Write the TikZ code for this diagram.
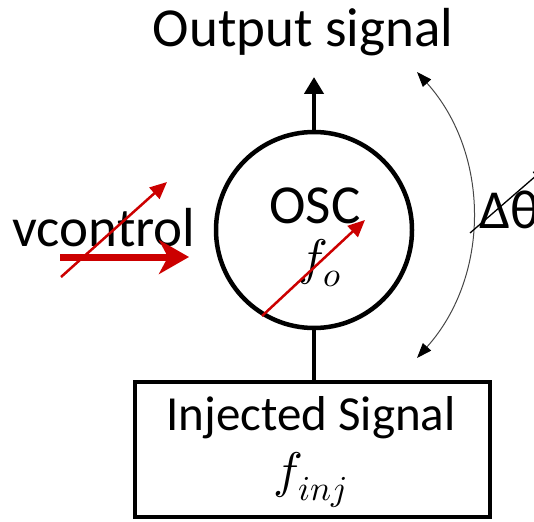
\documentclass[tikz,border=0pt]{standalone}
\usepackage{unicode-math}
\setmainfont{Carlito}
\usetikzlibrary{arrows.meta}
\definecolor{redA}{RGB}{204,0,0}
\definecolor{arcgrey}{RGB}{70,70,70}
\tikzset{
  lbl/.style={inner sep=0pt, font=\fontsize{55}{66}\selectfont},
  boxlbl/.style={inner sep=0pt, font=\fontsize{49}{59}\selectfont},
  mlbl/.style={inner sep=0pt, font=\fontsize{50}{60}\selectfont},
  thickline/.style={line width=4.5pt, black},
  redthin/.style={line width=2.5pt, redA, -{Triangle[length=17pt,width=15pt]}},
  redthick/.style={line width=7pt, redA, -{Stealth[length=30pt,width=34pt,inset=9pt]}},
  arcline/.style={line width=1pt, arcgrey, {Triangle[length=15pt,width=11pt,color=black]}-{Triangle[length=15pt,width=11pt,color=black]}},
}
\begin{document}
\begin{tikzpicture}[x=1pt,y=-1pt]
\useasboundingbox (0,0) rectangle (534,521);
% title
\node[lbl] (out) at (303,32) {Output signal};
% oscillator
\node[draw, thickline, circle, minimum size=196pt, inner sep=0pt] (osc) at (314,230) {};
\coordinate (outtip) at (314,77);
\node[lbl] (osclbl) at (315,206) {OSC};
\node[mlbl] (fo) at (320,263) {$f_o$};
% injected signal box
\node[draw, thickline, minimum width=355pt, minimum height=135pt, inner sep=0pt] (inj) at (312.5,449.5) {};
\node[boxlbl] (injt) at (311,418) {Injected Signal};
\node[mlbl] (finj) at (310,480) {$f_{inj}$};
% vcontrol
\node[lbl] (vc) at (104,228) {vcontrol};
% connectors
\draw[thickline, -{Triangle[length=17pt,width=19pt]}] (osc.north) -- (outtip);
\draw[thickline] (osc.south) -- (osc.south |- inj.north);
% red arrows
\coordinate (r1s) at (262,316);
\coordinate (r1e) at (365,220);
\draw[redthin] (r1s) -- (r1e);
\coordinate (r2s) at (61,277);
\coordinate (r2e) at (167,182);
\draw[redthin] (r2s) -- (r2e);
\coordinate (r3s) at (60,257);
\coordinate (r3e) at (189,257);
\draw[redthick] (r3s) -- (r3e);
% phase arc
\coordinate (a1) at (417,72);
\coordinate (a2) at (417,358);
\draw[arcline] (a1) .. controls (490.4,153.7) and (490.4,276.3) .. (a2);
% delta theta
\node[lbl, anchor=west] (dth) at (479,210) {Δθ};
\coordinate (t1) at (470,233);
\coordinate (t2) at (545,168);
\draw[line width=1.3pt, black, -{Triangle[length=12pt,width=10pt]}] (t1) -- (t2);
\end{tikzpicture}
\end{document}
